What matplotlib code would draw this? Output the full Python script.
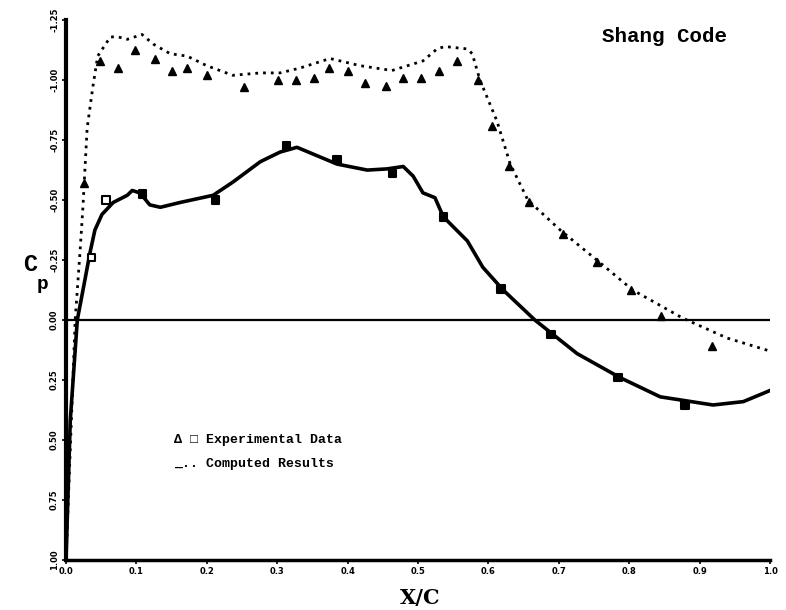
import numpy as np
import matplotlib
matplotlib.use("Agg")
import matplotlib.pyplot as plt

# computed upper surface (dotted)
xu_c = [0.0, 0.006, 0.013, 0.020, 0.024, 0.030, 0.038, 0.045, 0.063, 0.074, 0.087, 0.108,
        0.124, 0.148, 0.172, 0.200, 0.237, 0.276, 0.304, 0.332, 0.375, 0.418, 0.463,
        0.507, 0.527, 0.538, 0.570, 0.577, 0.588, 0.612, 0.631, 0.656, 0.702, 0.754,
        0.805, 0.876, 0.939, 1.004]
cpu_c = [1.0, 0.54, 0.0, -0.29, -0.47, -0.80, -0.97, -1.10, -1.18, -1.18, -1.17, -1.19,
         -1.15, -1.11, -1.10, -1.06, -1.02, -1.03, -1.03, -1.05, -1.09, -1.06, -1.04,
         -1.08, -1.13, -1.14, -1.13, -1.11, -1.0, -0.83, -0.65, -0.50, -0.375, -0.25,
         -0.125, -0.008, 0.075, 0.133]

# experimental upper (triangles)
xu_e = [0.026, 0.048, 0.074, 0.098, 0.126, 0.151, 0.172, 0.200, 0.253, 0.301, 0.327,
        0.352, 0.374, 0.401, 0.425, 0.455, 0.479, 0.504, 0.530, 0.555, 0.585, 0.605,
        0.629, 0.658, 0.706, 0.754, 0.803, 0.845, 0.918]
cpu_e = [-0.57, -1.08, -1.05, -1.125, -1.09, -1.04, -1.05, -1.02, -0.97, -1.0, -1.0,
         -1.01, -1.05, -1.04, -0.99, -0.975, -1.01, -1.01, -1.04, -1.08, -1.0, -0.81,
         -0.64, -0.49, -0.36, -0.24, -0.125, -0.017, 0.11]

# computed lower surface (solid)
xl_c = [0.0, 0.006, 0.016, 0.027, 0.034, 0.041, 0.051, 0.067, 0.087, 0.094, 0.105, 0.119,
        0.134, 0.162, 0.209, 0.237, 0.276, 0.304, 0.328, 0.385, 0.428, 0.456, 0.479,
        0.493, 0.507, 0.524, 0.536, 0.570, 0.592, 0.621, 0.666, 0.726, 0.787, 0.844,
        0.919, 0.962, 1.003]
cpl_c = [1.0, 0.42, 0.0, -0.17, -0.28, -0.375, -0.44, -0.49, -0.52, -0.54, -0.53, -0.48,
         -0.47, -0.49, -0.52, -0.575, -0.66, -0.70, -0.72, -0.65, -0.625, -0.63, -0.64,
         -0.60, -0.53, -0.51, -0.43, -0.33, -0.22, -0.125, 0.0, 0.14, 0.24, 0.32,
         0.354, 0.34, 0.29]

# experimental lower (squares)
xl_e = [0.036, 0.057, 0.109, 0.212, 0.313, 0.385, 0.464, 0.536, 0.618, 0.689, 0.784, 0.879]
cpl_e = [-0.26, -0.50, -0.525, -0.50, -0.725, -0.67, -0.61, -0.43, -0.13, 0.06, 0.24, 0.354]

xticks = [0.0, 0.1, 0.2, 0.3, 0.4, 0.5, 0.6, 0.7, 0.8, 0.9, 1.0]
yticks = [-1.25, -1.0, -0.75, -0.5, -0.25, 0.0, 0.25, 0.5, 0.75, 1.0]

fig = plt.figure(figsize=(7.86, 6.10), dpi=100)
ax = fig.add_axes([0.084, 0.082, 0.8957, 0.885])

ax.axhline(0.0, color='k', lw=1.6)
ax.plot(xu_c, cpu_c, color='k', lw=2.0, linestyle=(0, (1, 1.8)))
ax.plot(xl_c, cpl_c, color='k', lw=2.6)
ax.plot(xu_e, cpu_e, linestyle='none', marker='^', ms=5.5, color='k')
face = ['white', 'white'] + ['k'] * (len(xl_e) - 2)
ax.scatter(xl_e, cpl_e, marker='s', s=28, facecolors=face, edgecolors='k', linewidths=1.5, zorder=3)

ax.set_xlim(0, 1.0)
ax.set_ylim(1.0, -1.25)
ax.spines['top'].set_visible(False)
ax.spines['right'].set_visible(False)
ax.spines['left'].set_linewidth(3)
ax.spines['bottom'].set_linewidth(2.5)

ax.set_xticks(xticks)
ax.set_xticklabels(['%.1f' % t for t in xticks], fontsize=6, fontweight='bold')
ax.set_yticks(yticks)
ax.set_yticklabels(['%.2f' % t for t in yticks], fontsize=6, fontweight='bold',
                   rotation=90, va='center')
ax.tick_params(direction='out', length=3, width=1.2, pad=2)

fig.text(0.535, 0.004, 'X/C', fontsize=15, fontweight='bold', family='DejaVu Serif',
         ha='center', va='bottom')
fig.text(0.030, 0.548, 'C', fontsize=17, fontweight='bold', family='Liberation Mono',
         ha='left', va='bottom')
fig.text(0.046, 0.520, 'p', fontsize=14, fontweight='bold', family='Liberation Mono',
         ha='left', va='bottom')
fig.text(0.845, 0.955, 'Shang Code', fontsize=15, fontweight='bold',
         family='Liberation Mono', ha='center', va='top')

fig.text(0.222, 0.278, u'\u0394 \u25a1 Experimental Data', fontsize=9.5, fontweight='bold',
         family='Liberation Mono', ha='left', va='center')
fig.text(0.222, 0.240, '_.. Computed Results', fontsize=9.5, fontweight='bold',
         family='Liberation Mono', ha='left', va='center')

fig.savefig('out.png', dpi=100)
